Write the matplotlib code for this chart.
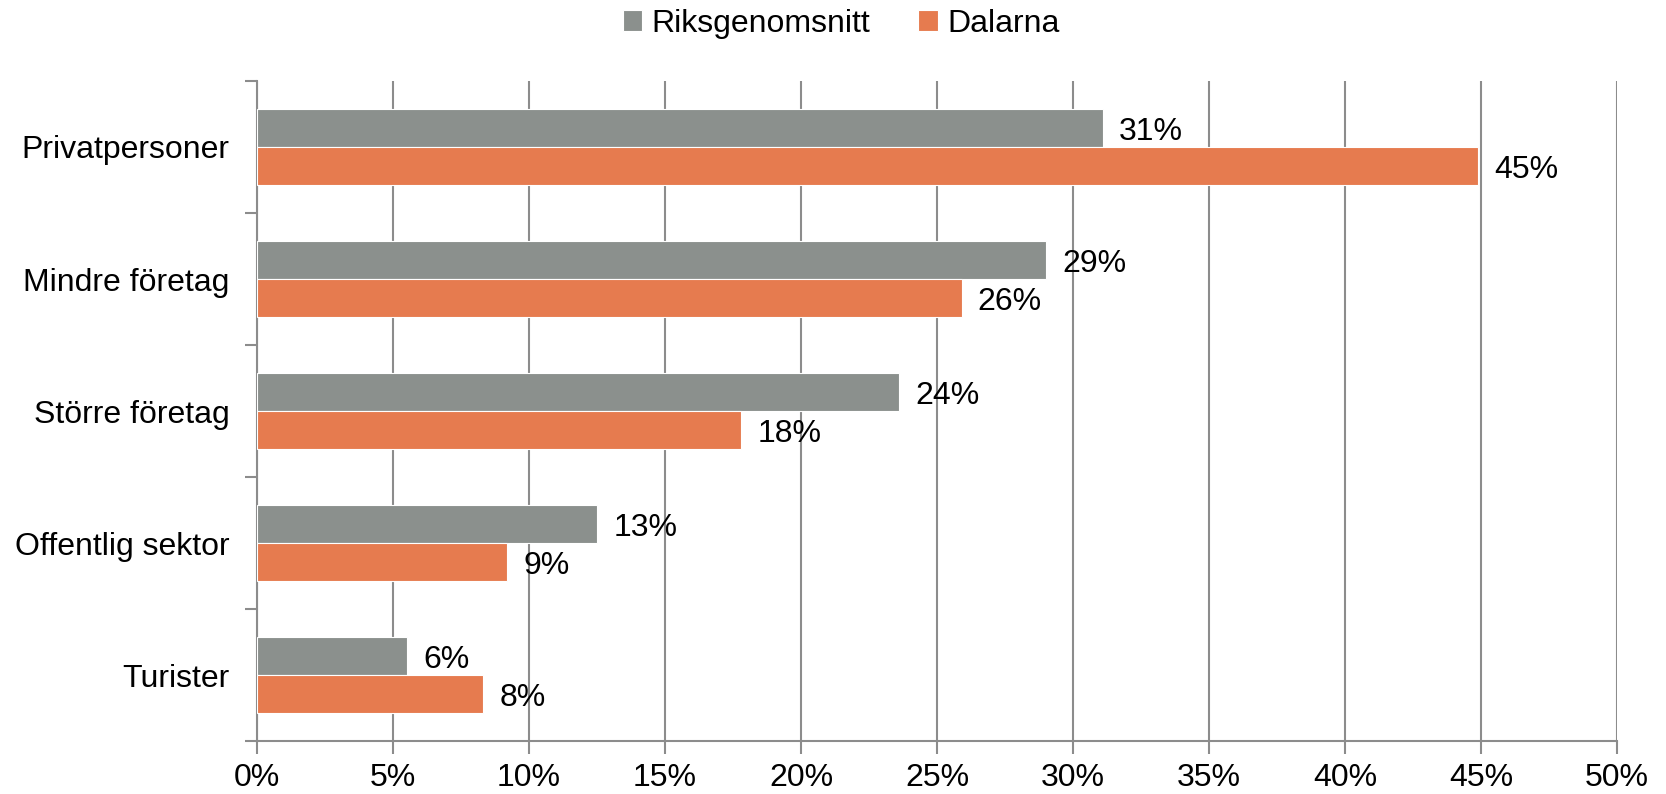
import matplotlib.pyplot as plt
import numpy as np
from matplotlib.ticker import FixedLocator, PercentFormatter

# data (percent)
categories = ['Privatpersoner', 'Mindre företag', 'Större företag', 'Offentlig sektor', 'Turister']
riksgenomsnitt = [31.1, 29.0, 23.6, 12.5, 5.5]
dalarna = [44.9, 25.9, 17.8, 9.2, 8.3]
series_names = ['Riksgenomsnitt', 'Dalarna']

plt.rcParams['font.family'] = ['Liberation Sans', 'DejaVu Sans']
grey = '#8b908d'
orange = '#e67b4f'
axis_col = '#8c8c8c'
fs = 23

fig = plt.figure(figsize=(16.66, 7.94), dpi=100)
ax = fig.add_axes([0.1543, 0.0667, 0.8163, 0.8313])

y = np.arange(len(categories))
h = 0.288
b1 = ax.barh(y - h / 2, riksgenomsnitt, height=h, color=grey, edgecolor='white', linewidth=0.8,
             label=series_names[0], zorder=3)
b2 = ax.barh(y + h / 2, dalarna, height=h, color=orange, edgecolor='white', linewidth=0.8,
             label=series_names[1], zorder=3)

# value labels
for bars, vals in [(b1, riksgenomsnitt), (b2, dalarna)]:
    for bar, v in zip(bars, vals):
        ax.text(v + 0.6, bar.get_y() + bar.get_height() / 2 + 0.03, f'{int(v + 0.5)}%',
                va='center', ha='left', fontsize=fs, zorder=4)

ax.set_xlim(0, 50)
ax.set_ylim(len(categories) - 0.5, -0.5)
ax.set_xticks(np.arange(0, 51, 5))
ax.xaxis.set_major_formatter(PercentFormatter(decimals=0))
ax.set_yticks(y)
ax.set_yticklabels(categories)
ax.yaxis.set_minor_locator(FixedLocator(np.arange(-0.5, len(categories), 1)))

ax.tick_params(axis='y', which='major', length=0, pad=20, labelsize=fs)
ax.tick_params(axis='y', which='minor', length=9, width=1.5, color=axis_col)
ax.tick_params(axis='x', which='major', length=9, width=1.5, color=axis_col, pad=7, labelsize=fs)

ax.grid(axis='x', color=axis_col, linewidth=1.5, zorder=0)
for s in ['top', 'right']:
    ax.spines[s].set_visible(False)
for s in ['left', 'bottom']:
    ax.spines[s].set_color(axis_col)
    ax.spines[s].set_linewidth(1.5)

fig.legend(handles=[b1, b2], loc='center', bbox_to_anchor=(0.505, 0.97), ncol=2,
           frameon=False, fontsize=fs, handlelength=0.6, handleheight=0.6,
           handletextpad=0.3, columnspacing=1.5)

fig.savefig('out.png', dpi=100)
